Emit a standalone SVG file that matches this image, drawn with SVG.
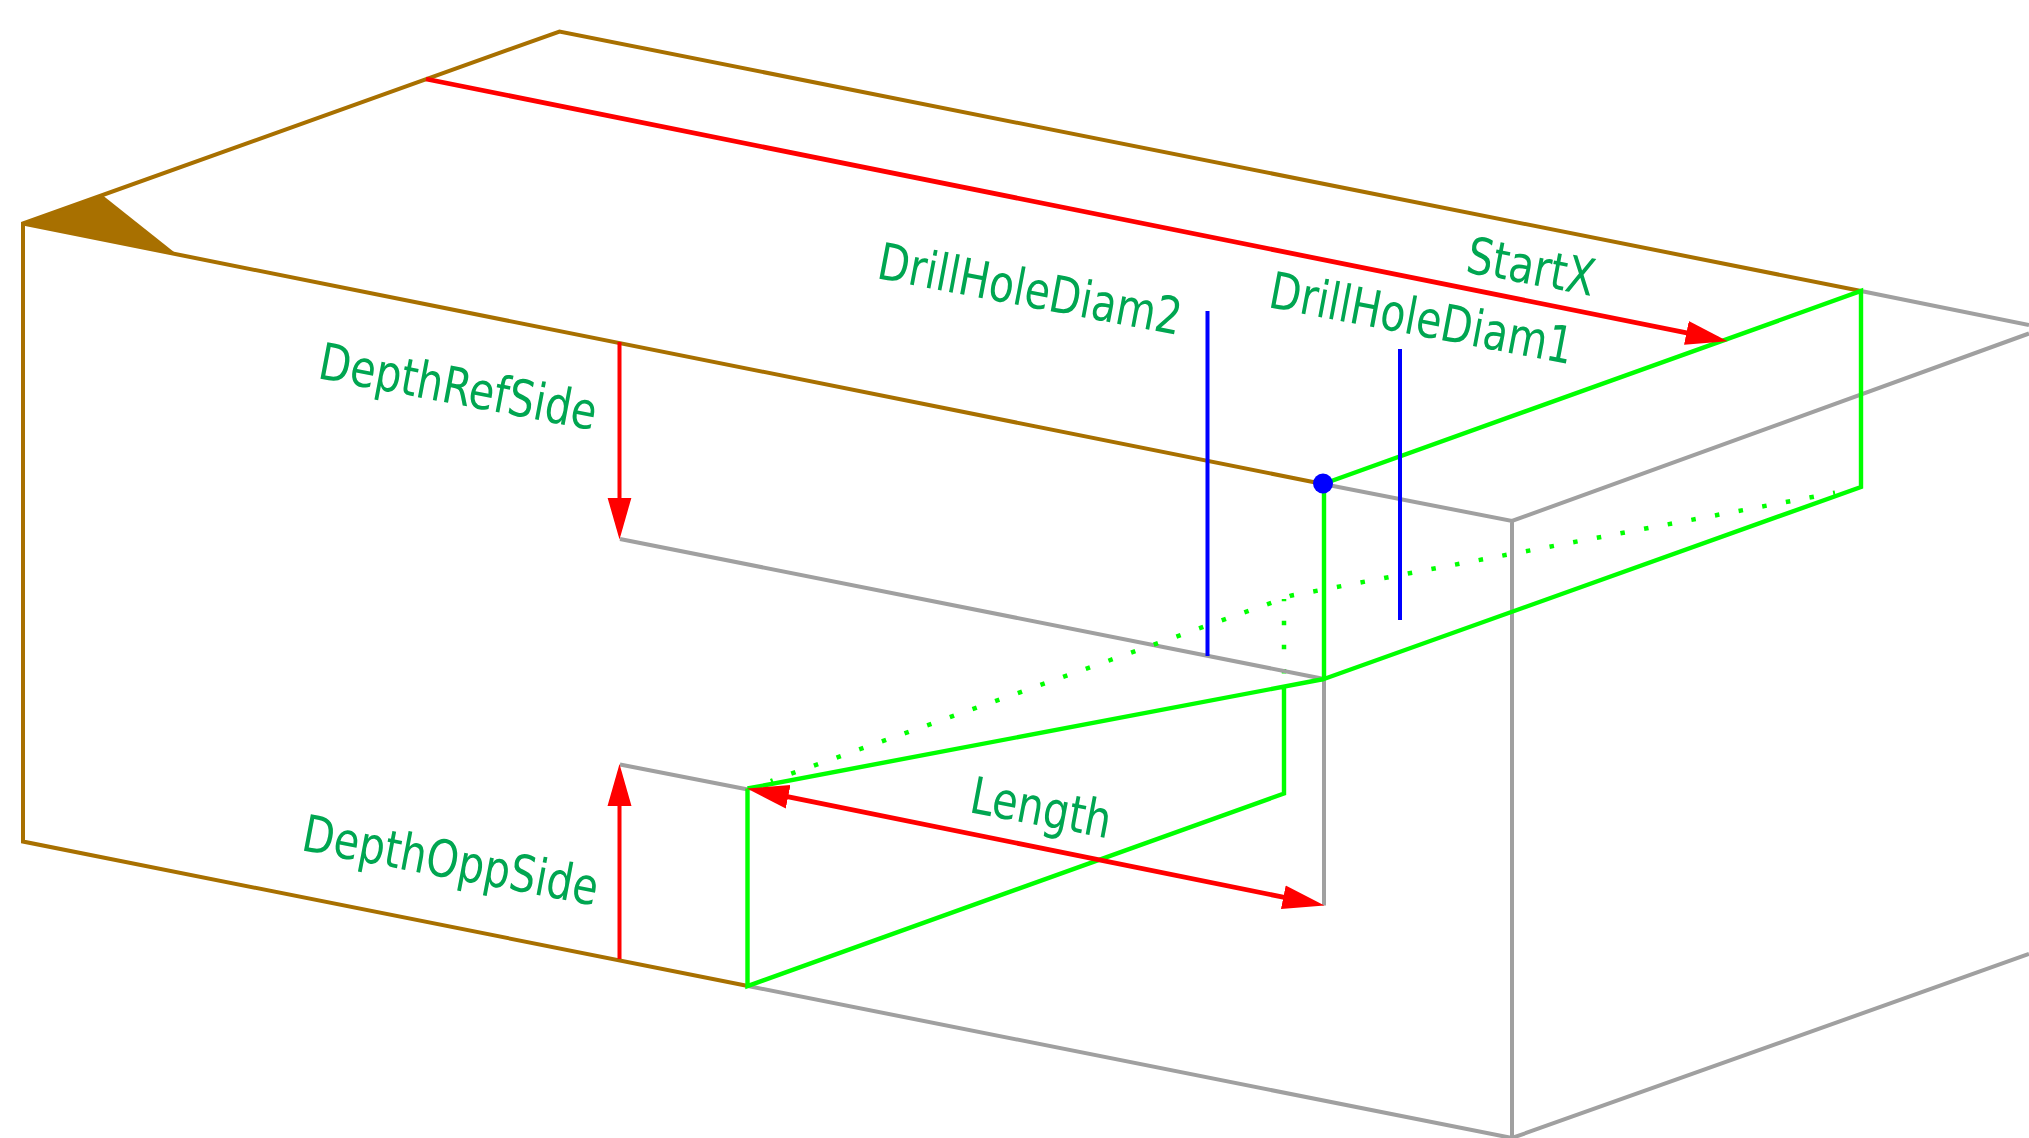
<svg xmlns="http://www.w3.org/2000/svg" width="2029" height="1138" viewBox="0 0 2029 1138">
<style>
.l{fill:none;stroke-width:4;stroke-linecap:butt;stroke-linejoin:miter}
.brown{stroke:#a87000}.gray{stroke:#a0a0a0}.green{stroke:#00ff00;stroke-width:4.400}.red{stroke:#ff0000;stroke-width:4.800}.depth{stroke:#ff0000;stroke-width:4}.blue{stroke:#0000ff}
.dot{stroke:#00ff00;stroke-width:4.500;fill:none;stroke-dasharray:4.500 19.550;stroke-dashoffset:2.250}
.t{font-family:"DejaVu Sans",sans-serif;font-stretch:condensed;font-size:51px;fill:#00a651}
</style>
<defs>
<marker id="ah" markerUnits="userSpaceOnUse" markerWidth="44" markerHeight="26" refX="32" refY="13" orient="auto-start-reverse" viewBox="0 0 44 26"><path d="M0 1L42 13L0 25Z" fill="#ff0000"/></marker>
</defs>
<rect width="2029" height="1138" fill="#ffffff"/>
<g id="connectors">
<path class="dot" d="M1284 599V678"/>
<g id="gray-edges">
<path class="l gray" d="M1323 484L1512 521L2029 333.500M1861 291L2029 325M1512 521V1138M748 986L1512 1138L2029 954M620 539L1324 679V905.500M620 764.500L748 789.500"/>
</g>
<g id="brown-edges">
<path class="l brown" d="M748 986L23 841.500V223.500L559.500 31.500L1861 291M23 223.500L1323 484"/>
<path id="corner-mark" d="M23 223.500L103.500 196L176.500 254Z" fill="#a87000"/>
</g>
<g id="green-edges">
<path class="l green" d="M1323 484L1861 291V487L1324 679L1324 484M1324 679L747.500 788.500M747.500 788.500V986L1284 793.500V687"/>
<path class="dot" d="M770.700 781L1291.700 595.500L1835 492.700"/>
</g>
<g id="blue-lines">
<path class="l blue" d="M1207.500 311V656M1400 349V620"/>
</g>
<g id="red-arrows">
<path class="l red" d="M426 79L1717.800 339.200" marker-end="url(#ah)"/>
<path class="l depth" d="M619.500 342V529.500" marker-end="url(#ah)"/>
<path class="l depth" d="M619.500 959V774" marker-end="url(#ah)"/>
<path class="l red" d="M756.800 790.500L1314.700 903.500" marker-start="url(#ah)" marker-end="url(#ah)"/>
</g>
</g>
<g id="start-point"><circle cx="1323" cy="483.500" r="10" fill="#0000ff"/></g>
<g id="label-depthrefside"><text class="t" transform="translate(316.500 378) rotate(10.700) scale(.9 1)">DepthRefSide</text></g>
<g id="label-depthoppside"><text class="t" transform="translate(300 850) rotate(10.700) scale(.9 1)">DepthOppSide</text></g>
<g id="label-length"><text class="t" transform="translate(968 812) rotate(10.700) scale(.9 1)">Length</text></g>
<g id="label-startx"><text class="t" transform="translate(1464.500 272) rotate(10.700) scale(.9 1)">StartX</text></g>
<g id="label-drillholediam2"><text class="t" transform="translate(875.500 278) rotate(10.700) scale(.89 1)">DrillHoleDiam2</text></g>
<g id="label-drillholediam1"><text class="t" transform="translate(1267 307) rotate(10.700) scale(.89 1)">DrillHoleDiam1</text></g>
</svg>
